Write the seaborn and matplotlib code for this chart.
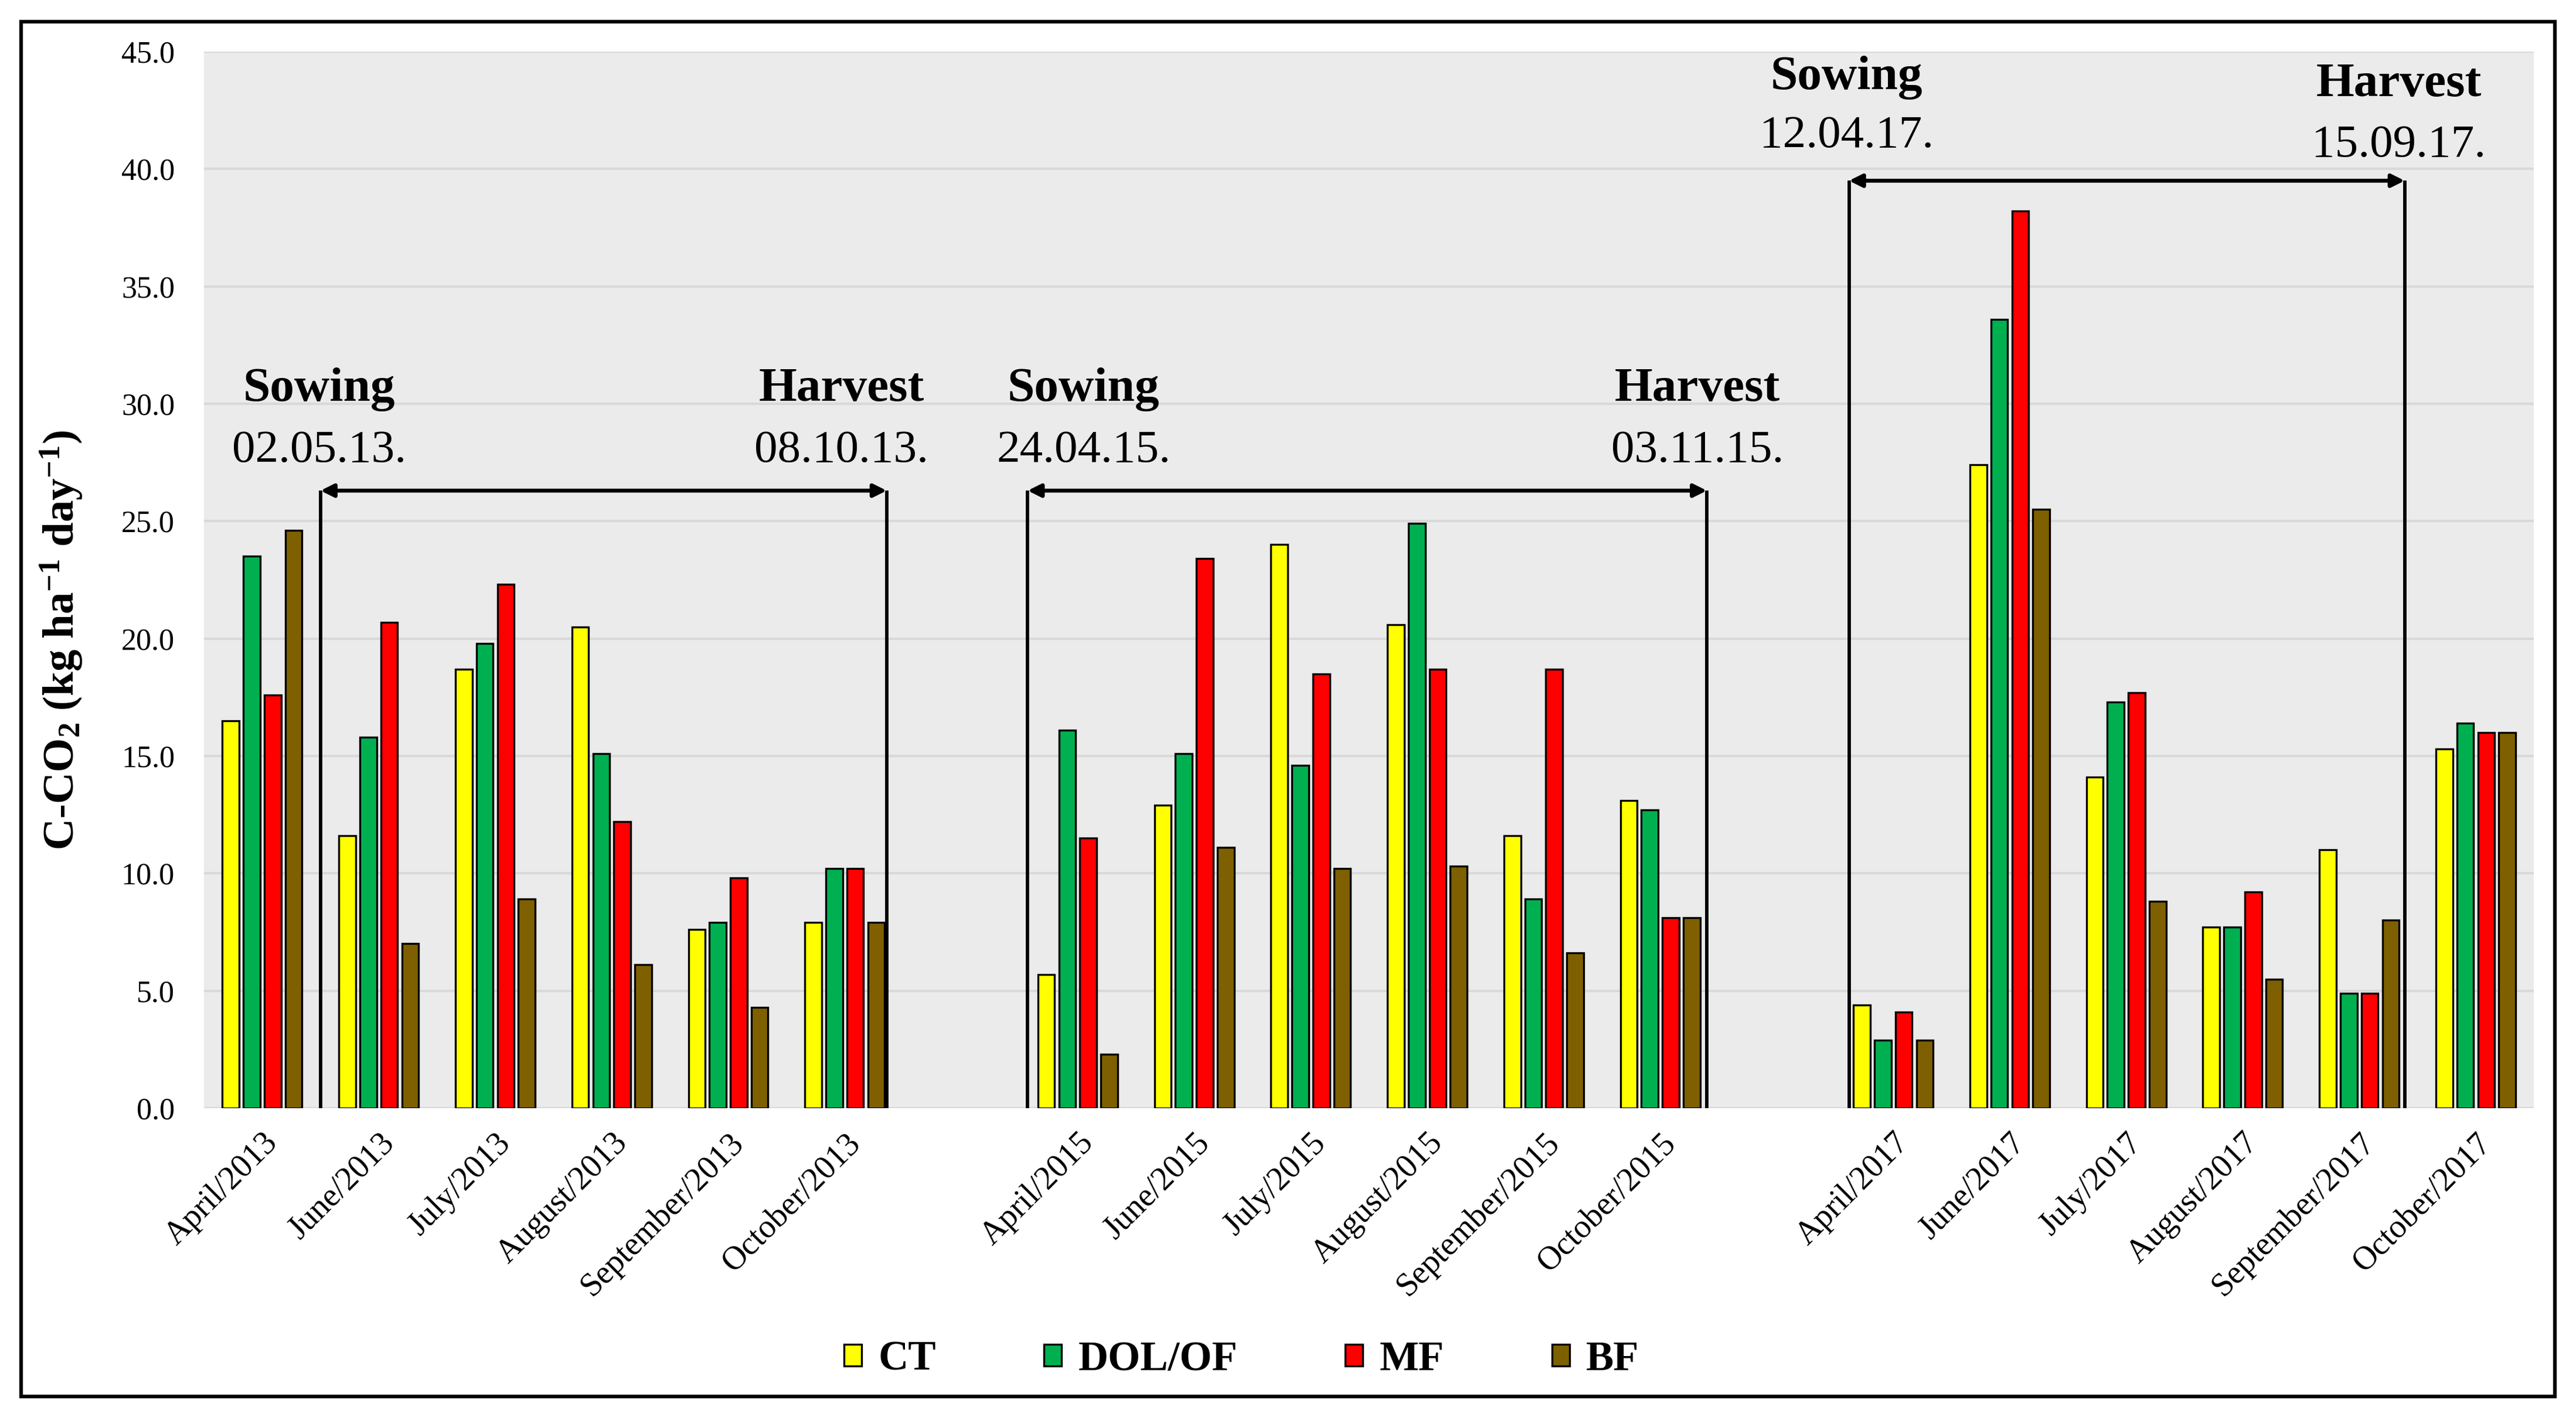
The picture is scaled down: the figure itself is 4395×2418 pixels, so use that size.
import matplotlib
matplotlib.use("Agg")
import matplotlib.pyplot as plt
import seaborn as sns
import pandas as pd
from matplotlib.patches import Patch, Rectangle

# ---------------- data ----------------
months_2013 = ["April/2013", "June/2013", "July/2013", "August/2013", "September/2013", "October/2013"]
months_2015 = ["April/2015", "June/2015", "July/2015", "August/2015", "September/2015", "October/2015"]
months_2017 = ["April/2017", "June/2017", "July/2017", "August/2017", "September/2017", "October/2017"]
treatments = ["CT", "DOL/OF", "MF", "BF"]

ct_2013 = [16.5, 11.6, 18.7, 20.5, 7.6, 7.9]
dol_2013 = [23.5, 15.8, 19.8, 15.1, 7.9, 10.2]
mf_2013 = [17.6, 20.7, 22.3, 12.2, 9.8, 10.2]
bf_2013 = [24.6, 7.0, 8.9, 6.1, 4.3, 7.9]

ct_2015 = [5.7, 12.9, 24.0, 20.6, 11.6, 13.1]
dol_2015 = [16.1, 15.1, 14.6, 24.9, 8.9, 12.7]
mf_2015 = [11.5, 23.4, 18.5, 18.7, 18.7, 8.1]
bf_2015 = [2.3, 11.1, 10.2, 10.3, 6.6, 8.1]

ct_2017 = [4.4, 27.4, 14.1, 7.7, 11.0, 15.3]
dol_2017 = [2.9, 33.6, 17.3, 7.7, 4.9, 16.4]
mf_2017 = [4.1, 38.2, 17.7, 9.2, 4.9, 16.0]
bf_2017 = [2.9, 25.5, 8.8, 5.5, 8.0, 16.0]

colors = ["#FFFF00", "#00B050", "#FF0000", "#7F6000"]

# annotation text
sow_labels = ["02.05.13.", "24.04.15.", "12.04.17."]
harv_labels = ["08.10.13.", "03.11.15.", "15.09.17."]

# ---------------- build table ----------------
rows = []
for months, series in [(months_2013, [ct_2013, dol_2013, mf_2013, bf_2013]),
                       (months_2015, [ct_2015, dol_2015, mf_2015, bf_2015]),
                       (months_2017, [ct_2017, dol_2017, mf_2017, bf_2017])]:
    for t, vals in zip(treatments, series):
        for m, v in zip(months, vals):
            rows.append({"month": m, "treatment": t, "value": v})
df = pd.DataFrame(rows)

gap1, gap2 = " ", "  "
order = months_2013 + [gap1] + months_2015 + [gap2] + months_2017

# ---------------- style ----------------
sns.set_theme(style="white")
plt.rcParams["font.family"] = ["Liberation Serif", "DejaVu Serif"]
plt.rcParams["mathtext.default"] = "regular"
for k in ["text.color", "axes.labelcolor", "xtick.color", "ytick.color"]:
    plt.rcParams[k] = "black"

fig = plt.figure(figsize=(14.65, 8.06), dpi=300)
ax = fig.add_axes([0.0792, 0.218, 0.9045, 0.7456])
ax.set_facecolor("#EBEBEB")

sns.barplot(data=df, x="month", y="value", hue="treatment", order=order,
            hue_order=treatments, palette=colors, saturation=1, width=0.72, gap=0.2,
            edgecolor="black", linewidth=0.8, ax=ax, legend=False, errorbar=None)

ax.set_ylim(0, 45)
ax.set_xlim(-0.5, len(order) - 0.5)
ax.set_yticks([i * 5 for i in range(10)])
ax.set_yticklabels([f"{i * 5:.1f}" for i in range(10)], fontsize=12.5)
ax.set_xticks(range(len(order)))
ax.set_xticklabels([m if m.strip() else "" for m in order], rotation=45,
                   ha="right", rotation_mode="anchor", fontsize=13.5)
ax.tick_params(axis="both", length=0)
ax.tick_params(axis="y", pad=12)
ax.tick_params(axis="x", pad=8)
ax.yaxis.grid(True, color="#D9D9D9", linewidth=1.0)
ax.set_axisbelow(True)
for s in ax.spines.values():
    s.set_visible(False)

ax.set_xlabel("")
ax.set_ylabel(r"C-CO$_{2}$ (kg ha$^{-1}$ day$^{-1}$)", fontsize=18, fontweight="bold")
ax.yaxis.set_label_coords(-0.051, 0.443)

# ---------------- sowing / harvest annotations ----------------
spans = [(0.5, 5.36, 26.3), (6.57, 12.4, 26.3), (13.62, 18.39, 39.5)]
sow_text_x = [0.49, 7.05, 13.6]
harv_text_x = [4.97, 12.32, 18.34]
sow_y = [(30.6, 28.0), (30.6, 28.0), (43.9, 41.4)]
harv_y = [(30.6, 28.0), (30.6, 28.0), (43.6, 41.0)]

for i, (x0, x1, ya) in enumerate(spans):
    ax.annotate("", xy=(x1, ya), xytext=(x0, ya),
                arrowprops=dict(arrowstyle="<|-|>", lw=1.6, color="black",
                                mutation_scale=11, shrinkA=0, shrinkB=0))
    ax.plot([x0, x0], [0, ya], color="black", lw=1.4, solid_capstyle="butt")
    ax.plot([x1, x1], [0, ya], color="black", lw=1.4, solid_capstyle="butt")
    ax.text(sow_text_x[i], sow_y[i][0], "Sowing", ha="center", va="center",
            fontsize=20, fontweight="bold")
    ax.text(sow_text_x[i], sow_y[i][1], sow_labels[i], ha="center", va="center",
            fontsize=19)
    ax.text(harv_text_x[i], harv_y[i][0], "Harvest", ha="center", va="center",
            fontsize=20, fontweight="bold")
    ax.text(harv_text_x[i], harv_y[i][1], harv_labels[i], ha="center", va="center",
            fontsize=19)

# ---------------- legend ----------------
handles = [Patch(facecolor=c, edgecolor="black", linewidth=0.8) for c in colors]
fig.legend(handles, treatments, loc="center", bbox_to_anchor=(0.482, 0.0405),
           ncol=4, frameon=False, prop={"weight": "bold", "size": 17},
           handlelength=0.42, handleheight=0.42, handletextpad=0.4,
           columnspacing=2.6)

# ---------------- outer frame ----------------
fig.add_artist(Rectangle((0.0082, 0.0145), 0.9836, 0.970, transform=fig.transFigure,
                         fill=False, edgecolor="black", linewidth=1.5))

fig.savefig("out.png", dpi=300, facecolor="white")
